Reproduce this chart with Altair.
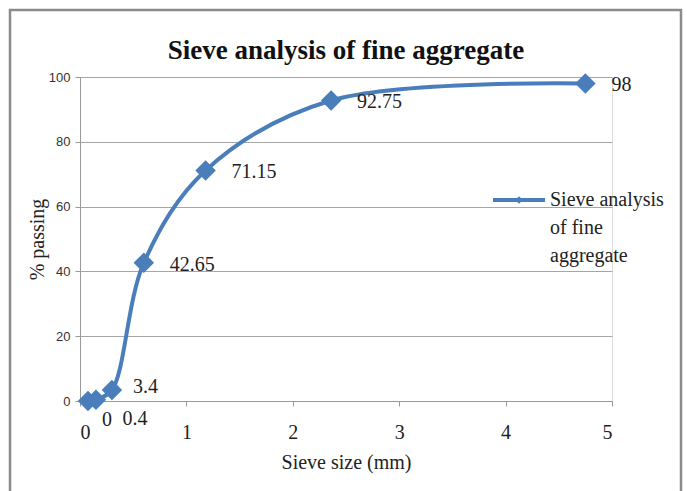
import altair as alt
import pandas as pd

# Sieve analysis results for the fine aggregate
sieve_mm = [0.075, 0.15, 0.3, 0.6, 1.18, 2.36, 4.75]
pct_passing = [0, 0.4, 3.4, 42.65, 71.15, 92.75, 98]
value_labels = ["0", "0.4", "3.4", "42.65", "71.15", "92.75", "98"]
chart_title = "Sieve analysis of fine aggregate"
legend_lines = ["Sieve analysis", "of fine", "aggregate"]
x_ticks = [0, 1, 2, 3, 4, 5]
y_ticks = [0, 20, 40, 60, 80, 100]

df = pd.DataFrame({
    "size": sieve_mm,
    "passing": pct_passing,
    "label": value_labels,
    "idx": list(range(len(sieve_mm))),
})

BLUE = "#4A7EBB"
SERIF = "Liberation Serif"

x_enc = alt.X(
    "size:Q",
    scale=alt.Scale(domain=[0, 5], nice=False),
    axis=alt.Axis(
        values=x_ticks, format="d", title="Sieve size (mm)", grid=False,
        labelFont=SERIF, labelFontSize=20, labelColor="#222",
        labelPadding=16, tickSize=5, tickColor="#999", domainColor="#999",
        titleFont=SERIF, titleFontSize=20, titleFontWeight="normal",
        titleColor="#222", titlePadding=10,
    ),
)
y_enc = alt.Y(
    "passing:Q",
    scale=alt.Scale(domain=[0, 100], nice=False),
    axis=alt.Axis(
        values=y_ticks, title="% passing", grid=True, gridColor="#A6A6A6",
        labelFont="Liberation Sans", labelFontSize=13, labelColor="#333",
        labelPadding=5, tickSize=5, tickColor="#999", domainColor="#999",
        titleFont=SERIF, titleFontSize=20, titleFontWeight="normal",
        titleColor="#222", titlePadding=1,
    ),
)

base = alt.Chart(df)
# single-row source for the one-off decorations (heading, legend, frame)
one = alt.Chart(pd.DataFrame({"k": [0]}))

line = base.mark_line(
    color=BLUE, strokeWidth=4, interpolate="catmull-rom"
).encode(x=x_enc, y=y_enc, order="idx:Q")

points = base.mark_point(
    shape="diamond", filled=True, size=420, color=BLUE, opacity=1
).encode(x="size:Q", y="passing:Q")

text_style = dict(font=SERIF, fontSize=20, color="#222", fontWeight="normal")

upper_labels = base.transform_filter("datum.idx >= 3").mark_text(
    align="left", baseline="middle", dx=26, dy=2, **text_style
).encode(x="size:Q", y="passing:Q", text="label:N")

third_label = base.transform_filter("datum.idx == 2").mark_text(
    align="left", baseline="middle", dx=21, dy=-3, **text_style
).encode(x="size:Q", y="passing:Q", text="label:N")

zero_label = base.transform_filter("datum.idx == 0").mark_text(
    align="center", baseline="middle", dx=19, dy=19, **text_style
).encode(x="size:Q", y="passing:Q", text="label:N")

small_label = base.transform_filter("datum.idx == 1").mark_text(
    align="center", baseline="middle", dx=39, dy=19, **text_style
).encode(x="size:Q", y="passing:Q", text="label:N")

# Legend entry: short line with a diamond, and the wrapped series name
legend_line = one.mark_rule(color=BLUE, strokeWidth=4).encode(
    x=alt.value(413), x2=alt.value(465), y=alt.value(123)
)
legend_point = one.mark_point(
    shape="diamond", filled=True, size=60, color=BLUE, opacity=1
).encode(x=alt.value(439), y=alt.value(123))
legend_text = one.mark_text(
    align="left", baseline="middle", lineHeight=28, **text_style
).encode(
    x=alt.value(470), y=alt.value(123),
    text=alt.value(legend_lines),
)

# Chart heading
heading = one.mark_text(
    align="center", baseline="middle", font=SERIF, fontSize=27,
    fontWeight="bold", color="#111",
).encode(x=alt.value(266), y=alt.value(-26), text=alt.value(chart_title))

# Outer chart-area frame
frame = one.mark_rect(
    fill=None, stroke="#8C8C8C", strokeWidth=2.5
).encode(
    x=alt.value(-70), y=alt.value(-67), x2=alt.value(601), y2=alt.value(430)
)

chart = alt.layer(
    frame, line, points, upper_labels, third_label, zero_label, small_label,
    legend_line, legend_point, legend_text, heading,
).properties(
    width=532,
    height=324,
    autosize=alt.AutoSizeParams(type="none"),
    padding={"left": 80, "top": 77, "right": 75, "bottom": 90},
).configure_view(stroke=None).configure(background="white")

chart.save("out.html", embed_options={"renderer": "svg", "actions": False})
